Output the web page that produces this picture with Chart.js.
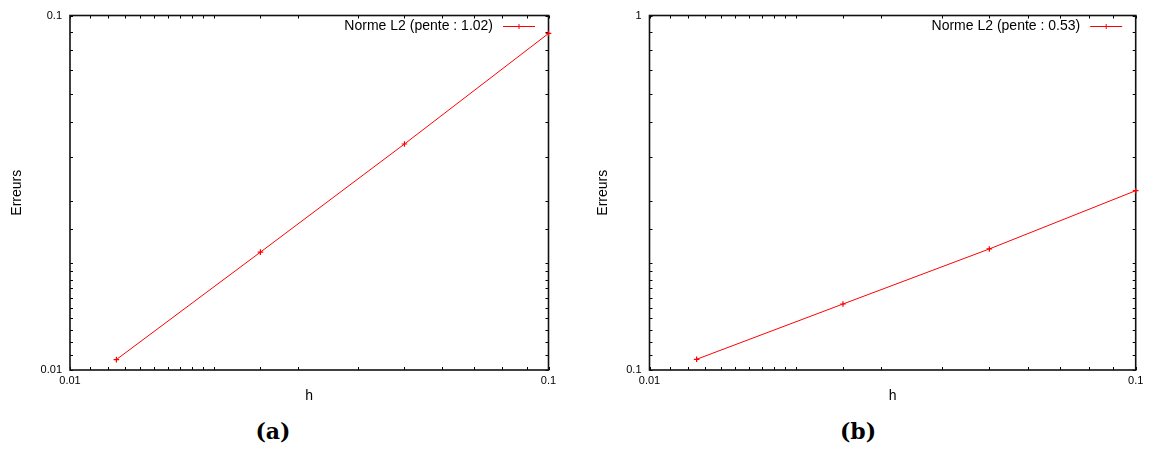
<!DOCTYPE html>
<html>
<head>
<meta charset="utf-8">
<script src="https://cdn.jsdelivr.net/npm/chart.js@4/dist/chart.umd.min.js"></script>
<style>
  html, body { margin: 0; padding: 0; background: #fff; }
  #wrap { position: relative; width: 1152px; height: 450px; overflow: hidden; }
  canvas { position: absolute; top: 0; }
  #chartA { left: 0; }
  #chartB { left: 576px; }
  .caption {
    position: absolute; top: 418px; width: 100px; text-align: center;
    font: bold 22px "DejaVu Serif", serif; color: #000;
  }
</style>
</head>
<body>
<div id="wrap">
  <canvas id="chartA" width="576" height="410"></canvas>
  <canvas id="chartB" width="576" height="410"></canvas>
  <div class="caption" style="left:223px">(a)</div>
  <div class="caption" style="left:808px">(b)</div>
</div>
<script>
// --- data ---
const hValues = [0.0125, 0.025, 0.05, 0.1];
const errorsA = [0.0107, 0.0215, 0.0434, 0.089];
const errorsB = [0.1072, 0.1535, 0.2195, 0.3205];
const labelA = 'Norme L2 (pente : 1.02)';
const labelB = 'Norme L2 (pente : 0.53)';
const xRange = [0.01, 0.1];
const yRangeA = [0.01, 0.1];
const yRangeB = [0.1, 1];

const RED = '#ff0000';
const SANS = '"Liberation Sans", Arial, sans-serif';

// show only decade labels (0.01, 0.1, 1)
function decadeLabel(value) {
  const l = Math.log10(value);
  return Math.abs(l - Math.round(l)) < 1e-9 ? String(value) : '';
}

// gnuplot-like frame: box + small inward ticks on all four sides, legend inside top-right
const framePlugin = {
  id: 'frame',
  beforeDatasetsDraw(chart) {
    const { ctx, chartArea: a, scales: { x, y } } = chart;
    ctx.save();
    ctx.strokeStyle = '#000';
    ctx.lineWidth = 1;
    ctx.beginPath();
    x.ticks.forEach(t => {
      const px = Math.round(x.getPixelForValue(t.value)) + 0.5;
      ctx.moveTo(px, a.bottom); ctx.lineTo(px, a.bottom - 3);
      ctx.moveTo(px, a.top); ctx.lineTo(px, a.top + 3);
    });
    y.ticks.forEach(t => {
      const py = Math.round(y.getPixelForValue(t.value)) + 0.5;
      ctx.moveTo(a.left, py); ctx.lineTo(a.left + 3, py);
      ctx.moveTo(a.right, py); ctx.lineTo(a.right - 3, py);
    });
    ctx.stroke();
    ctx.lineWidth = 1.6;
    ctx.strokeStyle = '#111';
    ctx.strokeRect(a.left, a.top, a.right - a.left, a.bottom - a.top);
    ctx.restore();
  },
  afterDatasetsDraw(chart) {
    const { ctx, chartArea: a } = chart;
    const ds = chart.data.datasets[0];
    const cy = a.top + 11;
    ctx.save();
    ctx.font = '14px ' + SANS;
    ctx.fillStyle = '#000';
    ctx.textAlign = 'right';
    ctx.textBaseline = 'middle';
    ctx.fillText(ds.label, a.right - 55.5, cy);
    ctx.strokeStyle = RED;
    ctx.lineWidth = 1;
    ctx.beginPath();
    ctx.moveTo(a.right - 45.5, cy); ctx.lineTo(a.right - 13.5, cy);
    const mx = a.right - 29.5;
    ctx.moveTo(mx - 2.5, cy); ctx.lineTo(mx + 2.5, cy);
    ctx.moveTo(mx, cy - 2.5); ctx.lineTo(mx, cy + 2.5);
    ctx.stroke();
    ctx.restore();
  }
};

function makeChart(id, errors, label, yRange, yWidth, padRight) {
  const points = hValues.map((h, i) => ({ x: h, y: errors[i] }));
  return new Chart(document.getElementById(id), {
    type: 'line',
    data: {
      datasets: [{
        label: label,
        data: points,
        borderColor: RED,
        backgroundColor: RED,
        borderWidth: 1,
        pointStyle: 'cross',
        pointRadius: 2.8,
        pointBorderWidth: 1.2,
        clip: 6
      }]
    },
    options: {
      responsive: false,
      animation: false,
      devicePixelRatio: 1,
      layout: { padding: { left: 0, right: padRight, top: 15.5, bottom: 0 } },
      plugins: { legend: { display: false }, tooltip: { enabled: false } },
      scales: {
        x: {
          type: 'logarithmic',
          min: xRange[0],
          max: xRange[1],
          grid: { display: false, drawTicks: false },
          border: { display: false },
          ticks: {
            autoSkip: false, maxRotation: 0, padding: 4,
            color: '#000', font: { family: SANS, size: 11 },
            callback: decadeLabel
          },
          title: {
            display: true, text: 'h', color: '#000',
            font: { family: SANS, size: 14 },
            padding: { top: 0, bottom: 5 }
          },
          afterFit: s => { s.height = 40; }
        },
        y: {
          type: 'logarithmic',
          min: yRange[0],
          max: yRange[1],
          grid: { display: false, drawTicks: false },
          border: { display: false },
          ticks: {
            autoSkip: false, padding: 8,
            color: '#000', font: { family: SANS, size: 11 },
            callback: decadeLabel
          },
          title: {
            display: true, text: 'Erreurs', color: '#000',
            font: { family: SANS, size: 14 },
            padding: { top: yWidth > 72 ? 18.5 : 8.5, bottom: 0 }
          },
          afterFit: s => { s.width = yWidth; }
        }
      }
    },
    plugins: [framePlugin]
  });
}

makeChart('chartA', errorsA, labelA, yRangeA, 70, 27.5);
makeChart('chartB', errorsB, labelB, yRangeB, 73.5, 16.3);
</script>
</body>
</html>
